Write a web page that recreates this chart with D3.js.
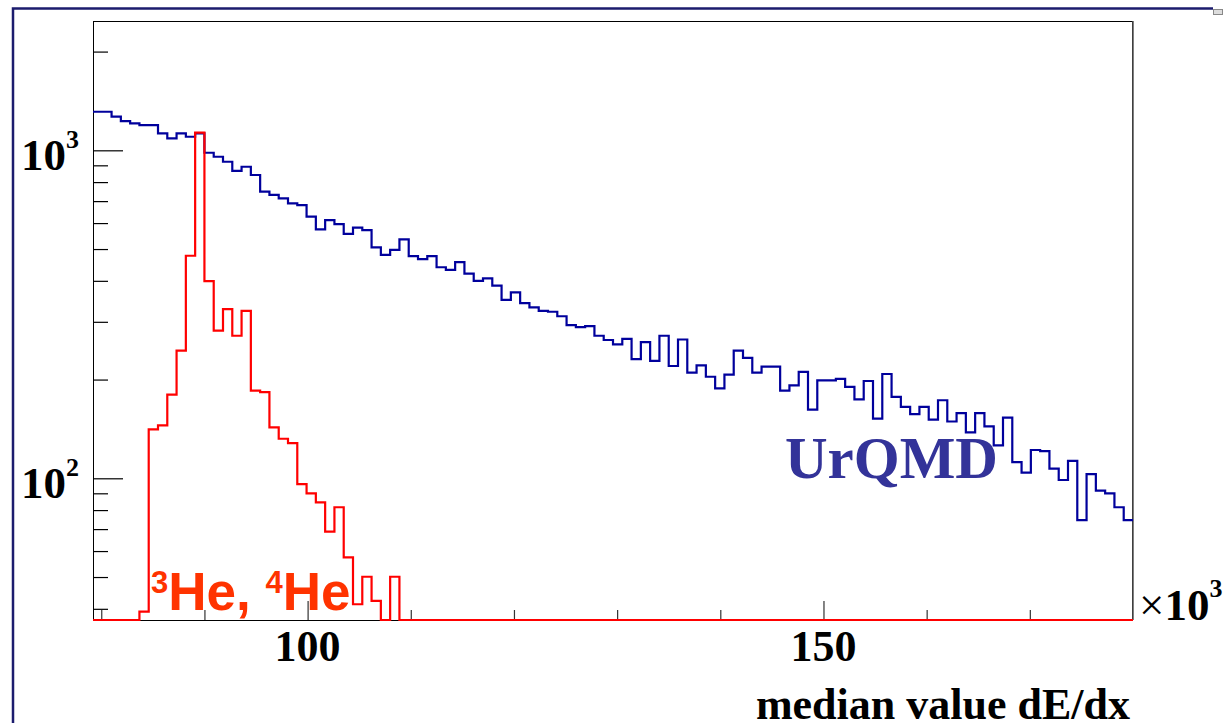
<!DOCTYPE html>
<html>
<head>
<meta charset="utf-8">
<script src="https://cdn.jsdelivr.net/npm/d3@7"></script>
<style>
  html, body { margin: 0; padding: 0; background: #fff; }
  svg { display: block; }
</style>
</head>
<body>
<div class="forSvg"></div>
<script>
// svg size
const svg_w = 1223;
const svg_h = 723;

// frame of the pad
const frameL = 93, frameR = 1133, frameT = 21, frameB = 620;

// histogram binning (0.9 wide bins, shown from 79.2 to 180, x 10^3)
const binStart = 79.2;
const binWidth = 0.9;
const xRange = [79.2, 180];
const yRange = [36.98, 2479];

// UrQMD counts per bin
const urqmdCounts = [
  1311, 1311, 1266, 1228, 1209, 1194, 1194, 1127, 1088, 1127,
  1100, 1127, 983, 956, 923, 865, 891, 841, 748, 731,
  714, 689, 681, 628, 574, 613, 596, 556, 581, 571,
  506, 480, 497, 535, 476, 466, 476, 440, 432, 456,
  421, 400, 407, 387, 350, 369, 342, 332, 324, 322,
  312, 293, 289, 291, 272, 264, 256, 266, 231, 260,
  228, 272, 220, 265, 210, 221, 204, 188, 207, 245,
  233, 210, 219, 219, 185, 192, 211, 162, 199, 199,
  201, 190, 174, 198, 152, 208, 177, 165, 157, 165,
  151, 173, 149, 158, 138, 158, 144, 126, 153, 112,
  104, 122, 121, 107, 98.8, 113, 74.6, 103, 91.7, 90,
  81.6, 74.6
];

// 3He + 4He counts per bin (bins after the last entry are empty)
const heliumCounts = [
  0, 0, 0, 0, 0, 39.2, 141, 145, 180, 245,
  477, 1132, 399, 282, 328, 272, 324, 185, 183, 143,
  132, 128, 96, 90, 84.5, 68.8, 81.6, 57.4, 41.3, 50.1,
  42.3, 0, 50.1
];

// ticks
const yDecades = [2, 3];
const yMinorTicks = [40, 50, 60, 70, 80, 90, 200, 300, 400, 500, 600, 700, 800, 900, 2000];
const xMajorTicks = [100, 150];
const xMinorTicks = [80, 90, 110, 120, 130, 140, 160, 170];

const serif = "'Liberation Serif', 'Times New Roman', serif";
const sans = "'Liberation Sans', Arial, sans-serif";

const xScale = d3.scaleLinear().domain(xRange).range([frameL, frameR]);
const yScale = d3.scaleLog().domain(yRange).range([frameB, frameT]);

const svg = d3.select(".forSvg")
  .append("svg")
  .attr("width", svg_w)
  .attr("height", svg_h);

svg.append("rect")
  .attr("width", svg_w).attr("height", svg_h)
  .attr("fill", "#fff");

// canvas border (navy line on top and left)
svg.append("path")
  .attr("d", `M13,723 L13,8.5 L1213,8.5`)
  .attr("fill", "none")
  .attr("stroke", "#1c1c6e")
  .attr("stroke-width", 2.5);
svg.append("rect")
  .attr("x", 1213.5).attr("y", 9.5).attr("width", 9).attr("height", 5)
  .attr("fill", "#ddd").attr("stroke", "#888").attr("stroke-width", 1);

// frame
svg.append("rect")
  .attr("x", frameL + 0.5).attr("y", frameT + 0.5)
  .attr("width", frameR - frameL - 1).attr("height", frameB - frameT)
  .attr("fill", "none")
  .attr("stroke", "#000")
  .attr("stroke-width", 1);
svg.append("line")
  .attr("x1", frameR).attr("x2", frameR)
  .attr("y1", frameT).attr("y2", frameB)
  .attr("stroke", "#555").attr("stroke-width", 1.5);

// step outline of a histogram, empty bins go down to the frame bottom
function stepPoints(counts, nBins, fromBottom) {
  const pts = [];
  for (let i = 0; i < nBins; i++) {
    const c = counts[i] || 0;
    const lo = binStart + i * binWidth;
    const hi = lo + binWidth;
    const y = c > yRange[0] ? yScale(c) : frameB;
    if (i === 0 && fromBottom) pts.push([xScale(lo), frameB]);
    pts.push([xScale(lo), y]);
    pts.push([xScale(hi), y]);
  }
  if (fromBottom) pts.push([xScale(binStart + nBins * binWidth), frameB]);
  return pts;
}

const nBins = urqmdCounts.length;
const line = d3.line();

svg.append("path")
  .attr("d", line(stepPoints(urqmdCounts, nBins, false)))
  .attr("fill", "none")
  .attr("stroke", "#00009c")
  .attr("stroke-width", 2.2);

// y axis ticks (pointing into the frame)
const yMinorAxis = d3.axisLeft(yScale)
  .tickValues(yMinorTicks).tickSize(-15).tickFormat("");
const yMajorAxis = d3.axisLeft(yScale)
  .tickValues(yDecades.map(d => Math.pow(10, d))).tickSize(-30).tickFormat("");
[yMinorAxis, yMajorAxis].forEach(ax => {
  const g = svg.append("g")
    .attr("transform", `translate(${frameL},0)`)
    .call(ax);
  g.select(".domain").remove();
  g.selectAll("line").attr("stroke", "#000").attr("stroke-width", 1.2);
});

// x axis ticks (pointing up)
const xMinorAxis = d3.axisBottom(xScale)
  .tickValues(xMinorTicks).tickSize(-10).tickFormat("");
const xMajorAxis = d3.axisBottom(xScale)
  .tickValues(xMajorTicks).tickSize(-19).tickFormat("");
[xMinorAxis, xMajorAxis].forEach(ax => {
  const g = svg.append("g")
    .attr("transform", `translate(0,${frameB})`)
    .call(ax);
  g.select(".domain").remove();
  g.selectAll("line").attr("stroke", "#333").attr("stroke-width", 1.2);
});

// helium histogram (drawn over the axis line)
svg.append("path")
  .attr("d", line(stepPoints(heliumCounts, nBins, true)))
  .attr("fill", "none")
  .attr("stroke", "#ff0000")
  .attr("stroke-width", 2.2);

// y tick labels 10^n
yDecades.forEach(d => {
  const t = svg.append("text")
    .attr("x", 21)
    .attr("y", yScale(Math.pow(10, d)) + 20)
    .attr("font-family", serif)
    .attr("font-weight", "bold")
    .attr("font-size", 45)
    .attr("fill", "#000");
  t.append("tspan").text("10");
  t.append("tspan").attr("font-size", 26).attr("dy", -22).text(d);
});

// x tick labels
xMajorTicks.forEach(v => {
  svg.append("text")
    .attr("x", xScale(v))
    .attr("y", 661)
    .attr("text-anchor", "middle")
    .attr("font-family", serif)
    .attr("font-weight", "bold")
    .attr("font-size", 44)
    .attr("fill", "#000")
    .text(v);
});

// x10^3 multiplier
const mult = svg.append("text")
  .attr("x", 1139)
  .attr("y", 620)
  .attr("font-family", serif)
  .attr("font-weight", "bold")
  .attr("font-size", 45)
  .attr("fill", "#000");
mult.append("tspan").attr("font-weight", "normal").text("\u00d7");
mult.append("tspan").text("10");
mult.append("tspan").attr("font-size", 26).attr("dy", -23).text("3");

// x axis title
svg.append("text")
  .attr("x", 1130)
  .attr("y", 719)
  .attr("text-anchor", "end")
  .attr("font-family", serif)
  .attr("font-weight", "bold")
  .attr("font-size", 44)
  .attr("fill", "#000")
  .text("median value dE/dx");

// labels
svg.append("text")
  .attr("x", 785)
  .attr("y", 478)
  .attr("font-family", serif)
  .attr("font-weight", "bold")
  .attr("font-size", 59)
  .attr("fill", "#333399")
  .text("UrQMD");

const he = svg.append("text")
  .attr("x", 151)
  .attr("y", 610)
  .attr("font-family", sans)
  .attr("font-weight", "bold")
  .attr("font-size", 53)
  .attr("fill", "#ff3300");
he.append("tspan").attr("font-size", 31).attr("dy", -17).text("3");
he.append("tspan").attr("dy", 17).text("He, ");
he.append("tspan").attr("font-size", 31).attr("dy", -17).text("4");
he.append("tspan").attr("dy", 17).text("He");
</script>
</body>
</html>
